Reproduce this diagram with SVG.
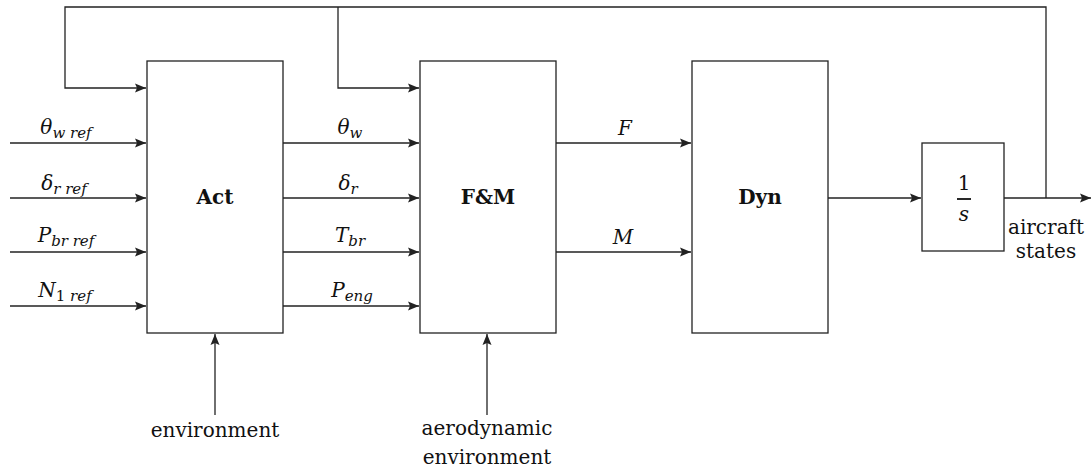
<svg xmlns="http://www.w3.org/2000/svg" width="1092" height="471" viewBox="0 0 1092 471">
<style>
.box{fill:#fff;stroke:#222;stroke-width:1.3}
.ln{fill:none;stroke:#222;stroke-width:1.3}
text{font-family:'DejaVu Serif',serif;font-size:20px;fill:#111}
.m{font-style:italic}
.b{font-weight:bold}
.c{text-anchor:middle}
.s{font-size:15px}
</style>
<defs>
<marker id="ar" markerWidth="12" markerHeight="10" refX="11" refY="5" orient="auto" markerUnits="userSpaceOnUse">
<path d="M0,0.5 L11,5 L0,9.5 L2,5 Z" fill="#222"/>
</marker>
</defs>
<rect width="1092" height="471" fill="#fff"/>
<g id="connectors">
<path class="ln" d="M1046,198 V7 H65 V88 H146" marker-end="url(#ar)"/>
<path class="ln" d="M338,7 V88 H419" marker-end="url(#ar)"/>
<path class="ln" d="M10,143 H146" marker-end="url(#ar)"/>
<path class="ln" d="M10,198 H146" marker-end="url(#ar)"/>
<path class="ln" d="M10,252 H146" marker-end="url(#ar)"/>
<path class="ln" d="M10,306 H146" marker-end="url(#ar)"/>
<path class="ln" d="M283,143 H419" marker-end="url(#ar)"/>
<path class="ln" d="M283,198 H419" marker-end="url(#ar)"/>
<path class="ln" d="M283,252 H419" marker-end="url(#ar)"/>
<path class="ln" d="M283,306 H419" marker-end="url(#ar)"/>
<path class="ln" d="M556,143 H691" marker-end="url(#ar)"/>
<path class="ln" d="M556,252 H691" marker-end="url(#ar)"/>
<path class="ln" d="M828,198 H921" marker-end="url(#ar)"/>
<path class="ln" d="M1004,198 H1091" marker-end="url(#ar)"/>
<path class="ln" d="M215,415 V334" marker-end="url(#ar)"/>
<path class="ln" d="M487,415 V334" marker-end="url(#ar)"/>
</g>
<g id="labels">
<text x="66" y="134" class="c"><tspan class="m">θ</tspan><tspan class="m s" dy="4">w ref</tspan></text>
<text x="64" y="190" class="c"><tspan class="m">δ</tspan><tspan class="m s" dy="4">r ref</tspan></text>
<text x="66" y="242" class="c"><tspan class="m">P</tspan><tspan class="m s" dy="4">br ref</tspan></text>
<text x="65" y="297" class="c"><tspan class="m">N</tspan><tspan class="s" dy="4">1 </tspan><tspan class="m s">ref</tspan></text>
<text x="350" y="134" class="c"><tspan class="m">θ</tspan><tspan class="m s" dy="4">w</tspan></text>
<text x="348" y="190" class="c"><tspan class="m">δ</tspan><tspan class="m s" dy="4">r</tspan></text>
<text x="350" y="242" class="c"><tspan class="m">T</tspan><tspan class="m s" dy="4">br</tspan></text>
<text x="352" y="297" class="c"><tspan class="m">P</tspan><tspan class="m s" dy="4">eng</tspan></text>
<text x="625" y="135" class="c m">F</text>
<text x="623" y="244" class="c m">M</text>
<text x="1046" y="234" class="c">aircraft</text>
<text x="1046" y="258" class="c">states</text>
<text x="215" y="437" class="c">environment</text>
<text x="487" y="435" class="c">aerodynamic</text>
<text x="487" y="464" class="c">environment</text>
</g>
<g id="act"><rect class="box" x="147" y="61" width="136" height="272"/><text x="215" y="204" class="c b">Act</text></g>
<g id="fm"><rect class="box" x="420" y="61" width="136" height="272"/><text x="488" y="204" class="c b">F&amp;M</text></g>
<g id="dyn"><rect class="box" x="692" y="61" width="136" height="272"/><text x="760" y="204" class="c b">Dyn</text></g>
<g id="integrator"><rect class="box" x="922" y="143" width="82" height="108"/>
<text x="964" y="190" class="c" font-size="18">1</text>
<line x1="957" y1="199" x2="971" y2="199" stroke="#111" stroke-width="1.8"/>
<text x="964" y="221" class="c m" font-size="19">s</text></g>
</svg>
